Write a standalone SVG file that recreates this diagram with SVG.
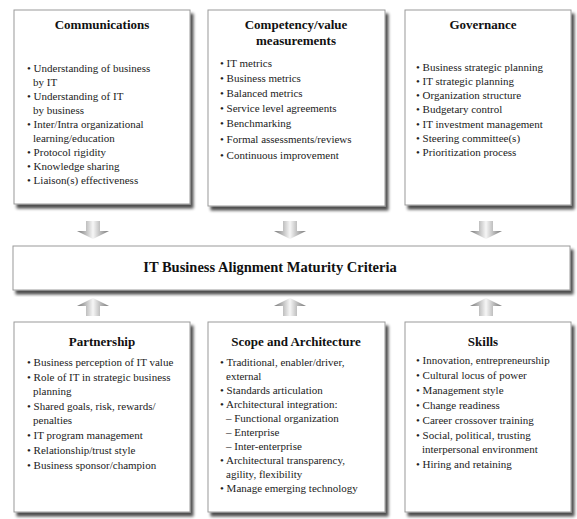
<svg xmlns="http://www.w3.org/2000/svg" width="577" height="519" viewBox="0 0 577 519">
<defs>
<filter id="sh" x="-10%" y="-10%" width="125%" height="125%">
<feGaussianBlur in="SourceAlpha" stdDeviation="1.8"/>
<feOffset dx="3" dy="4" result="b"/>
<feComponentTransfer><feFuncA type="linear" slope="0.7"/></feComponentTransfer>
<feMerge><feMergeNode/><feMergeNode in="SourceGraphic"/></feMerge>
</filter>
<linearGradient id="ag" x1="0" y1="0" x2="1" y2="0">
<stop offset="0" stop-color="#777"/>
<stop offset="0.5" stop-color="#f6f6f6"/>
<stop offset="1" stop-color="#777"/>
</linearGradient>
<polygon id="down" points="-7,0 7,0 7,10 16,10 0,18 -16,10 -7,10" fill="url(#ag)"/>
<polygon id="up" points="-7,18 7,18 7,8 16,8 0,0 -16,8 -7,8" fill="url(#ag)"/>
</defs>
<style>
.box{fill:#fff;stroke:#9a9a9a;stroke-width:1}
.t{font-family:"Liberation Serif","Times New Roman",serif;font-weight:bold;font-size:13px;fill:#111;text-anchor:middle}
.i{font-family:"Liberation Serif","Times New Roman",serif;font-size:11px;fill:#222}
</style>
<rect width="577" height="519" fill="#fff"/>
<g id="communications">
<rect class="box" x="14" y="10" width="176" height="194" filter="url(#sh)"/>
<text class="t" x="102" y="29">Communications</text>
<text class="i" x="27" y="72">• Understanding of business</text>
<text class="i" x="33" y="86">by IT</text>
<text class="i" x="27" y="100">• Understanding of IT</text>
<text class="i" x="33" y="114">by business</text>
<text class="i" x="27" y="128">• Inter/Intra organizational</text>
<text class="i" x="33" y="142">learning/education</text>
<text class="i" x="27" y="156">• Protocol rigidity</text>
<text class="i" x="27" y="170">• Knowledge sharing</text>
<text class="i" x="27" y="184">• Liaison(s) effectiveness</text>
</g>
<g id="competency">
<rect class="box" x="208" y="10" width="177" height="196" filter="url(#sh)"/>
<text class="t" x="296" y="29">Competency/value</text>
<text class="t" x="296" y="45">measurements</text>
<text class="i" x="220" y="67">• IT metrics</text>
<text class="i" x="220" y="82">• Business metrics</text>
<text class="i" x="220" y="97">• Balanced metrics</text>
<text class="i" x="220" y="112">• Service level agreements</text>
<text class="i" x="220" y="127">• Benchmarking</text>
<text class="i" x="220" y="143">• Formal assessments/reviews</text>
<text class="i" x="220" y="159">• Continuous improvement</text>
</g>
<g id="governance">
<rect class="box" x="405" y="10" width="166" height="195" filter="url(#sh)"/>
<text class="t" x="483" y="29">Governance</text>
<text class="i" x="416" y="71">• Business strategic planning</text>
<text class="i" x="416" y="85">• IT strategic planning</text>
<text class="i" x="416" y="99">• Organization structure</text>
<text class="i" x="416" y="113">• Budgetary control</text>
<text class="i" x="416" y="128">• IT investment management</text>
<text class="i" x="416" y="142">• Steering committee(s)</text>
<text class="i" x="416" y="156">• Prioritization process</text>
</g>
<g id="criteria">
<rect class="box" x="13" y="246" width="557" height="44" filter="url(#sh)"/>
<text class="t" x="270" y="272" style="font-size:14.5px">IT Business Alignment Maturity Criteria</text>
</g>
<g id="partnership">
<rect class="box" x="14" y="322" width="176" height="190" filter="url(#sh)"/>
<text class="t" x="102" y="346">Partnership</text>
<text class="i" x="27" y="366">• Business perception of IT value</text>
<text class="i" x="27" y="381">• Role of IT in strategic business</text>
<text class="i" x="33" y="395">planning</text>
<text class="i" x="27" y="410">• Shared goals, risk, rewards/</text>
<text class="i" x="33" y="424">penalties</text>
<text class="i" x="27" y="439">• IT program management</text>
<text class="i" x="27" y="454">• Relationship/trust style</text>
<text class="i" x="27" y="469">• Business sponsor/champion</text>
</g>
<g id="scope">
<rect class="box" x="208" y="322" width="177" height="190" filter="url(#sh)"/>
<text class="t" x="296" y="346">Scope and Architecture</text>
<text class="i" x="220" y="366">• Traditional, enabler/driver,</text>
<text class="i" x="226" y="380">external</text>
<text class="i" x="220" y="394">• Standards articulation</text>
<text class="i" x="220" y="408">• Architectural integration:</text>
<text class="i" x="226" y="422">– Functional organization</text>
<text class="i" x="226" y="436">– Enterprise</text>
<text class="i" x="226" y="450">– Inter-enterprise</text>
<text class="i" x="220" y="464">• Architectural transparency,</text>
<text class="i" x="226" y="478">agility, flexibility</text>
<text class="i" x="220" y="492">• Manage emerging technology</text>
</g>
<g id="skills">
<rect class="box" x="405" y="322" width="166" height="190" filter="url(#sh)"/>
<text class="t" x="483" y="346">Skills</text>
<text class="i" x="416" y="364">• Innovation, entrepreneurship</text>
<text class="i" x="416" y="379">• Cultural locus of power</text>
<text class="i" x="416" y="394">• Management style</text>
<text class="i" x="416" y="409">• Change readiness</text>
<text class="i" x="416" y="424">• Career crossover training</text>
<text class="i" x="416" y="439">• Social, political, trusting</text>
<text class="i" x="422" y="453">interpersonal environment</text>
<text class="i" x="416" y="468">• Hiring and retaining</text>
</g>
<g id="connectors">
<use href="#down" x="93" y="221"/>
<use href="#down" x="290" y="221"/>
<use href="#down" x="486" y="221"/>
<use href="#up" x="93" y="298"/>
<use href="#up" x="290" y="298"/>
<use href="#up" x="486" y="298"/>
</g>
</svg>
